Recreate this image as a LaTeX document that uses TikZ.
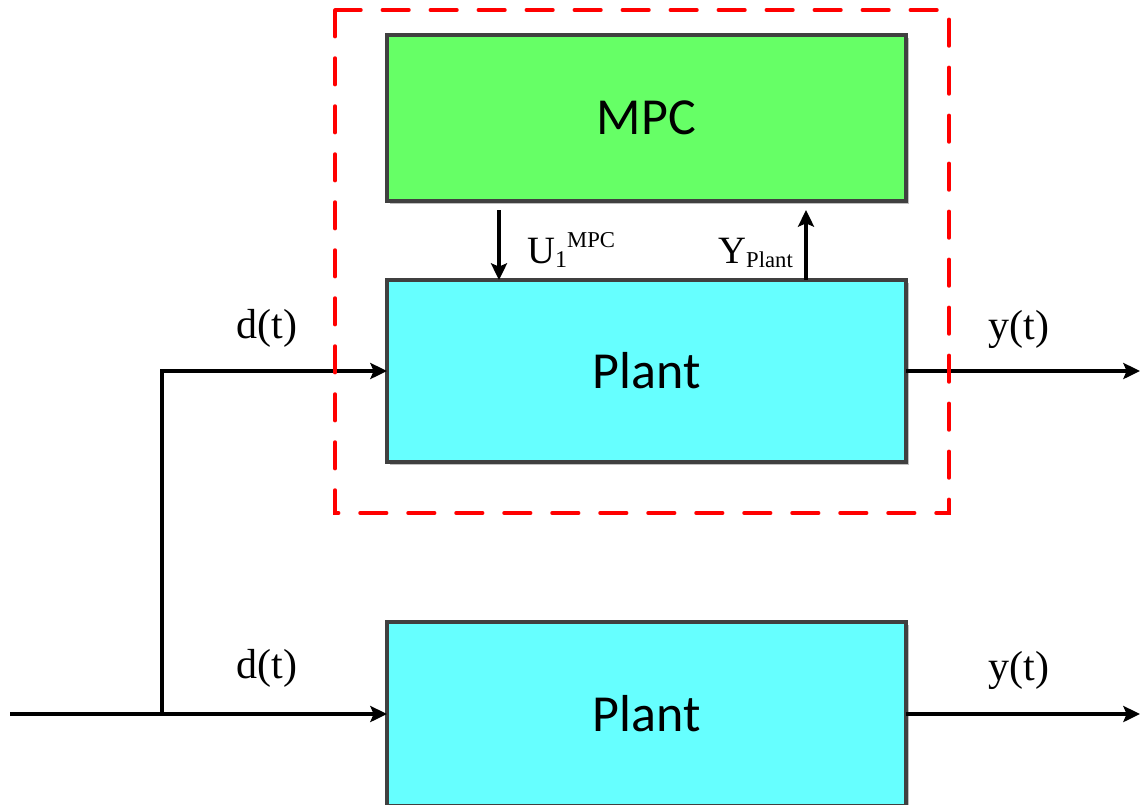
\documentclass[tikz,border=0pt]{standalone}
\usepackage{fontspec}
\setmainfont{Liberation Serif}
\newfontfamily\boxfont{Carlito}
\usetikzlibrary{arrows.meta,calc,shadows}
\definecolor{boxgray}{HTML}{404040}
\definecolor{mpcgreen}{HTML}{66FF66}
\definecolor{plantcyan}{HTML}{66FFFF}
\begin{document}
\begin{tikzpicture}[x=0.75pt,y=-0.75pt,
  blk/.style={draw=boxgray,line width=2.4pt,inner sep=0pt,outer sep=0pt,
    minimum width=389.25pt,font=\boxfont\fontsize{39}{42}\selectfont,
    drop shadow={shadow xshift=2.25pt,shadow yshift=-2.25pt,fill=black!25,opacity=1}},
  sig/.style={line width=2.6pt,-{Stealth[length=12.5pt,width=12pt,inset=2.5pt]}},
  lab/.style={font=\fontsize{31.5}{34}\selectfont,anchor=base,inner sep=0pt},
  sublab/.style={font=\fontsize{29}{30}\selectfont,anchor=base west,inner sep=0pt},
  frame/.style={red,line width=2.6pt,dash pattern=on 20pt off 16pt,line cap=round}]
\useasboundingbox (0,0) rectangle (1141,804);
\clip (0,0) rectangle (1141,804);

% blocks
\node[blk,fill=mpcgreen,minimum height=124.5pt] (mpc) at (646.5,118) {MPC};
\node[blk,fill=plantcyan,minimum height=136.5pt] (p1) at (646.5,371) {Plant};
\node[blk,fill=plantcyan,minimum height=138pt] (p2) at (646.5,714) {Plant};

% coordinates
\coordinate (src) at (10,714);
\coordinate (br) at (162,714);
\coordinate (out) at (1140,0);
\coordinate (ux) at (499,210);
\coordinate (yx) at (806,210);

% connectors
\draw[sig] (src) -- (p2.west);
\draw[sig] (br) |- (p1.west);
\draw[sig] (p1.east) -- (p1.east -| out);
\draw[sig] (p2.east) -- (p2.east -| out);
\draw[sig] (ux) -- (ux |- p1.north);
\draw[sig] (yx |- p1.north) -- (yx);

% labels
\node[lab] (d1) at (267,338) {d(t)};
\node[lab] (d2) at (267,678) {d(t)};
\node[lab] (y1) at (1019,339) {y(t)};
\node[lab] (y2) at (1019,680) {y(t)};
\node[sublab] (ul) at (527,263) {U\raisebox{-3pt}{\fontsize{18}{19}\selectfont 1}\raisebox{12pt}{\fontsize{17}{18}\selectfont MPC}};
\node[sublab] (yl) at (718,263) {Y\raisebox{-3pt}{\fontsize{17}{18}\selectfont Plant}};

% dashed frame
\draw[frame] (335,10) rectangle (949,513);
\end{tikzpicture}
\end{document}
